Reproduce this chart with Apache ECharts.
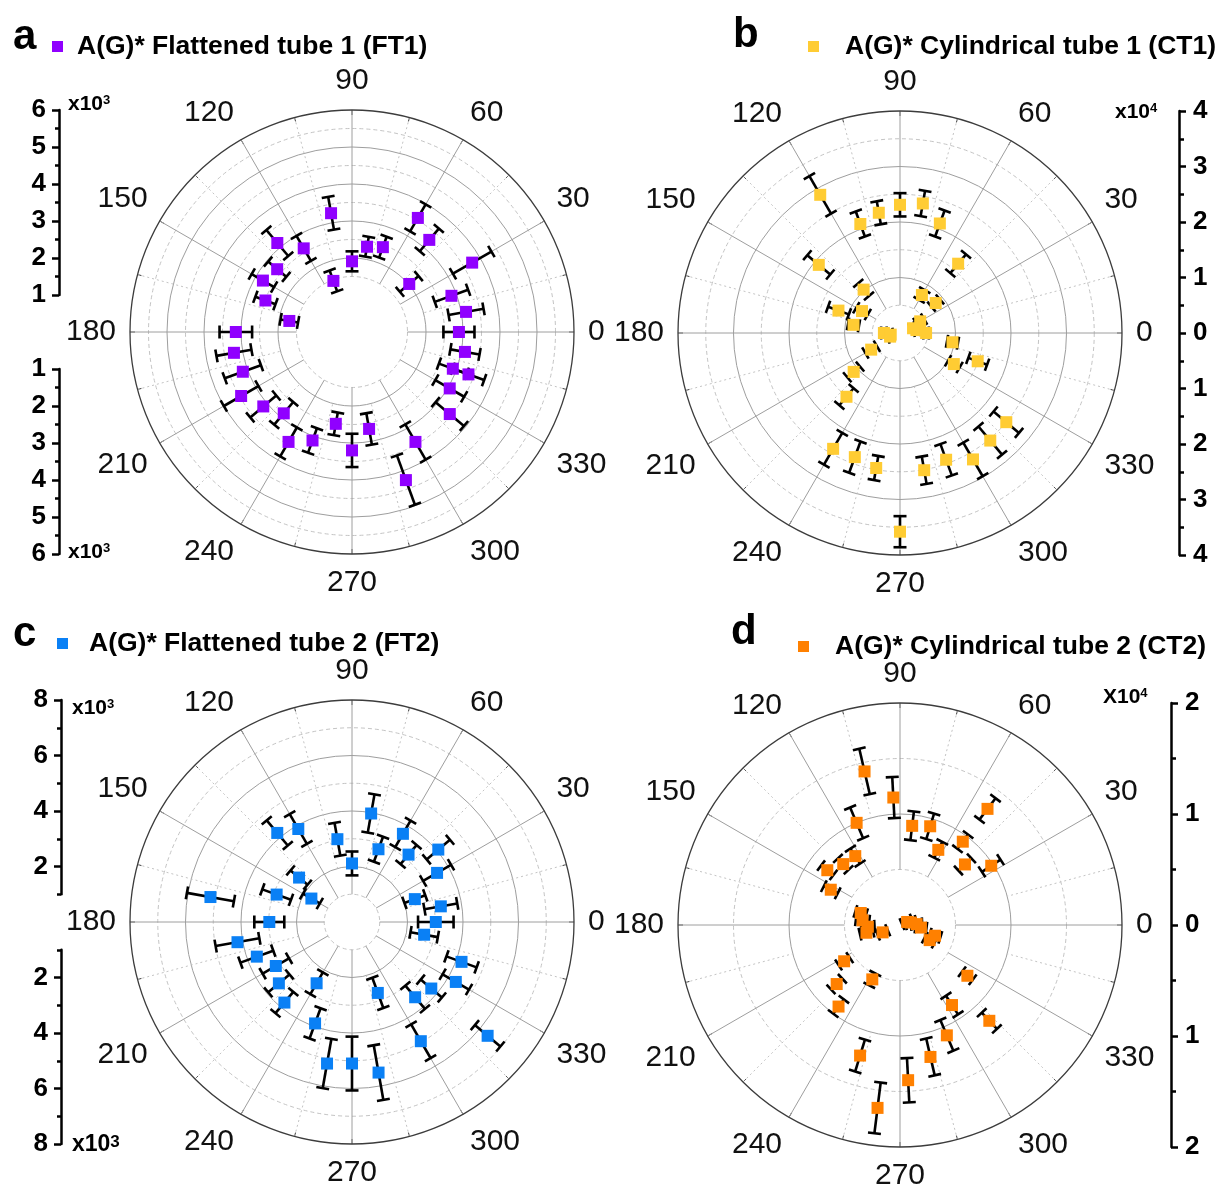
<!DOCTYPE html>
<html><head><meta charset="utf-8">
<script src="https://cdn.jsdelivr.net/npm/echarts@6/dist/echarts.min.js"></script>
<style>html,body{margin:0;padding:0;background:#fff}#c{width:1221px;height:1185px}</style>
</head><body><div id="c"></div>
<script>
// ---------------- DATA ----------------
// Panel a : A(G)* Flattened tube 1 (FT1)  (values in counts, radial unit 1e3)
const FT1_angle = [0,10,20,30,40,50,60,70,80,90,100,110,120,130,140,150,160,170,180,190,200,210,220,230,240,250,260,270,280,290,300,320,330,340,340,350];
const FT1_value = [2890,3130,2860,3750,2020,3250,3560,2440,2340,1910,3260,1470,2610,3140,2640,2780,2490,1720,3140,3240,3140,3460,3130,2870,3430,3120,2520,3200,2660,4260,3430,3450,3050,2900,3350,3100];
const FT1_err   = [420,480,480,600,330,400,420,300,270,270,450,300,390,460,320,350,290,240,440,480,520,540,460,400,450,350,310,450,430,710,550,500,450,400,450,400];
// Panel b : A(G)* Cylindrical tube 1 (CT1)  (radial unit 1e4)
const CT1_angle = [0,10,20,30,40,50,60,70,80,90,100,110,120,130,140,150,160,170,180,190,200,210,220,230,240,250,260,270,280,290,300,310,320,330,340,350];
const CT1_value = [4700,3000,2500,4200,8400,16300,7900,21000,23700,23100,22000,20900,28750,10200,19100,7900,11800,8500,2900,1700,1900,6000,10900,15000,24100,23800,24700,35800,25100,24300,26300,25300,25000,11200,14900,9600];
const CT1_err   = [500,500,500,800,1000,2200,1000,2500,2300,2100,2100,2400,3900,1500,2700,1200,2000,1000,500,500,500,1200,1500,2000,3300,3000,2200,2800,2500,3000,3500,3300,3000,1200,1800,1000];
// Panel c : A(G)* Flattened tube 2 (FT2)  (radial unit 1e3)
const FT2_angle = [0,10,20,30,40,50,60,70,80,90,100,120,130,140,150,160,170,180,190,200,210,220,230,240,250,260,270,280,290,300,310,320,320,330,340,350];
const FT2_value = [3020,3250,2410,3540,4060,3170,3670,2790,3970,2110,3030,3870,4190,2490,1690,2890,5180,2980,4190,3650,3170,3440,3790,2550,3890,5180,5100,5510,2720,4960,3540,3730,6380,4320,4200,2640];
const FT2_err   = [640,600,400,580,550,450,550,480,700,430,600,620,590,400,350,550,860,540,800,630,550,500,500,450,580,900,970,1000,580,700,550,500,600,550,580,500];
// Panel d : A(G)* Cylindrical tube 2 (CT2)  (radial unit 1e4)
const CT2_angle = [3,13,23,33,43,53,53,63,73,83,93,103,113,123,133,143,153,163,173,183,193,203,213,223,233,243,253,263,273,283,293,303,313,323,333,343,353];
const CT2_value = [1500,1000,700,9800,8000,9400,13100,7600,9300,9000,11500,14200,10000,7400,7500,8200,7000,3700,3400,2900,3100,1700,6000,7800,9200,5500,12300,16600,14000,12200,10800,8600,11800,7600,3000,3300,1900];
const CT2_err   = [500,500,500,1000,800,800,1200,800,1200,1300,1850,2100,1500,800,700,700,700,500,600,600,600,500,600,700,800,600,1500,2300,2000,1700,1500,1000,1000,600,500,500,500];

// Side-axis tick labels
const FT1_ticks = [1000,2000,3000,4000,5000,6000];
const FT1_minor = [1500,2500,3500,4500,5500];
const CT1_ticks = [-40000,-30000,-20000,-10000,0,10000,20000,30000,40000];
const CT1_minor = [-35000,-25000,-15000,-5000,5000,15000,25000,35000];
const FT2_ticks = [2000,4000,6000,8000];
const FT2_minor = [1000,3000,5000,7000];
const CT2_ticks = [-20000,-10000,0,10000,20000];
const CT2_minor = [-15000,-5000,5000,15000];

// ---------------- LAYOUT ----------------
const FONT = '"Liberation Sans", Arial, Helvetica, sans-serif';
const R = 222;
const TRANSP = 'rgba(0,0,0,0)';
const panels = [
  {name:'A(G)* Flattened tube 1 (FT1)', color:'#9000ff', cx:352, cy:332, M:6000, I:1000, hole:1500, first:2000,
   angle:FT1_angle, value:FT1_value, err:FT1_err},
  {name:'A(G)* Cylindrical tube 1 (CT1)', color:'#ffcc33', cx:900, cy:333, M:40000, I:10000, hole:5000, first:10000,
   angle:CT1_angle, value:CT1_value, err:CT1_err},
  {name:'A(G)* Flattened tube 2 (FT2)', color:'#0a80f5', cx:352, cy:922, M:8000, I:2000, hole:1000, first:2000,
   angle:FT2_angle, value:FT2_value, err:FT2_err},
  {name:'A(G)* Cylindrical tube 2 (CT2)', color:'#ff8000', cx:900, cy:925, M:20000, I:10000, hole:5000, first:10000,
   angle:CT2_angle, value:CT2_value, err:CT2_err}
];

const polar = [], angleAxis = [], radiusAxis = [], series = [];
const hiddenAngle = (pi) => ({polarIndex:pi, type:'value', min:0, max:360, startAngle:0, clockwise:false, show:false});

function errRender(params, api) {
  const r = api.value(0), a = api.value(1), e = api.value(2);
  const p0 = api.coord([0, a]);
  const p1 = api.coord([Math.max(0, r - e), a]);
  const p2 = api.coord([r + e, a]);
  let ux = p2[0] - p0[0], uy = p2[1] - p0[1];
  const L = Math.hypot(ux, uy) || 1; ux /= L; uy /= L;
  const px = -uy, py = ux, c = 6.5;
  const st = {stroke:'#000', lineWidth:2.6};
  return {type:'group', children:[
    {type:'line', shape:{x1:p1[0], y1:p1[1], x2:p2[0], y2:p2[1]}, style:st},
    {type:'line', shape:{x1:p1[0]-c*px, y1:p1[1]-c*py, x2:p1[0]+c*px, y2:p1[1]+c*py}, style:st},
    {type:'line', shape:{x1:p2[0]-c*px, y1:p2[1]-c*py, x2:p2[0]+c*px, y2:p2[1]+c*py}, style:st}
  ]};
}

panels.forEach((p) => {
  const base = polar.length;
  const center = [p.cx, p.cy];
  // 0: outer ring, labels, dashed minor circles
  polar.push({center, radius:[0, R]});
  angleAxis.push({polarIndex:base, type:'value', min:0, max:360, interval:30, startAngle:0, clockwise:false,
    axisLine:{show:true, lineStyle:{color:'#3c3c3c', width:1.3}},
    axisTick:{show:true, inside:true, length:5, lineStyle:{color:'#3c3c3c', width:1}},
    minorTick:{show:true, splitNumber:2, length:4, lineStyle:{color:'#3c3c3c', width:1}},
    axisLabel:{show:true, margin:14, fontSize:30, color:'#111', fontFamily:FONT},
    splitLine:{show:false}});
  const minorColors = [];
  for (let i = 0; i <= p.M / (p.I / 2); i++) {
    const v = i * p.I / 2;
    minorColors.push((i % 2 === 1 && v >= p.hole) ? '#c4c4c4' : TRANSP);
  }
  radiusAxis.push({polarIndex:base, type:'value', min:0, max:p.M, interval:p.I/2,
    axisLine:{show:false}, axisTick:{show:false}, axisLabel:{show:false},
    splitLine:{show:true, lineStyle:{type:[4,3], width:1, color:minorColors}}});
  // 1: solid major circles
  polar.push({center, radius:[0, R]});
  angleAxis.push(hiddenAngle(base+1));
  const majorColors = [];
  for (let i = 0; i <= p.M / p.I; i++) {
    const v = i * p.I;
    majorColors.push((v >= p.first && v < p.M) ? '#9e9e9e' : TRANSP);
  }
  radiusAxis.push({polarIndex:base+1, type:'value', min:0, max:p.M, interval:p.I,
    axisLine:{show:false}, axisTick:{show:false}, axisLabel:{show:false},
    splitLine:{show:true, lineStyle:{type:'solid', width:1, color:majorColors}}});
  // 2: major spokes from the hole outward
  polar.push({center, radius:[R * p.hole / p.M, R]});
  angleAxis.push({polarIndex:base+2, type:'value', min:0, max:360, interval:30, startAngle:0, clockwise:false,
    axisLine:{show:false}, axisTick:{show:false}, axisLabel:{show:false},
    splitLine:{show:true, lineStyle:{color:'#9e9e9e', width:1}}});
  radiusAxis.push({polarIndex:base+2, type:'value', min:0, max:1, show:false});
  // 3: dotted minor spokes from first major circle
  polar.push({center, radius:[R * p.first / p.M, R]});
  angleAxis.push({polarIndex:base+3, type:'value', min:0, max:360, interval:30, startAngle:15, clockwise:false,
    axisLine:{show:false}, axisTick:{show:false}, axisLabel:{show:false},
    splitLine:{show:true, lineStyle:{color:'#c4c4c4', width:1, type:[2,3]}}});
  radiusAxis.push({polarIndex:base+3, type:'value', min:0, max:1, show:false});
  // 4: data
  polar.push({center, radius:[0, R]});
  angleAxis.push(hiddenAngle(base+4));
  radiusAxis.push({polarIndex:base+4, type:'value', min:0, max:p.M, show:false});

  const pts = p.angle.map((a, i) => [p.value[i], a, p.err[i]]);
  series.push({type:'custom', name:p.name + ' err', coordinateSystem:'polar', polarIndex:base+4,
    data:pts, encode:{radius:0, angle:1}, renderItem:errRender, z:3, silent:true});
  series.push({type:'scatter', name:p.name, coordinateSystem:'polar', polarIndex:base+4,
    data:pts.map(d => [d[0], d[1]]), symbol:'rect', symbolSize:12, itemStyle:{color:p.color, opacity:1}, z:5});
});

// ---------------- SIDE AXES ----------------
const grid = [], xAxis = [], yAxis = [];
function sideAxis(rect, min, max, inverse, position, major, minor, fmt) {
  const gi = grid.length;
  grid.push(Object.assign({containLabel:false}, rect));
  xAxis.push({gridIndex:gi, type:'value', show:false, min:0, max:1});
  yAxis.push({gridIndex:gi, type:'value', min, max, inverse, position,
    axisLine:{show:true, lineStyle:{color:'#000', width:2.5}},
    axisTick:{show:true, customValues:major, length:7, lineStyle:{color:'#000', width:2.5}},
    axisLabel:{show:true, customValues:major, formatter:fmt, margin:13, fontSize:26, fontWeight:'bold', color:'#000', fontFamily:FONT},
    splitLine:{show:false}});
  yAxis.push({gridIndex:gi, type:'value', min, max, inverse, position,
    axisLine:{show:false},
    axisTick:{show:true, customValues:minor, length:4, lineStyle:{color:'#000', width:2.5}},
    axisLabel:{show:false}, splitLine:{show:false}});
}
const k3 = v => String(Math.round(Math.abs(v) / 1000));
const k4 = v => String(Math.round(Math.abs(v) / 10000));
sideAxis({left:59, top:110, width:1, height:185}, 1000, 6000, false, 'left', FT1_ticks, FT1_minor, k3);
sideAxis({left:59, top:369, width:1, height:185}, 1000, 6000, true, 'left', FT1_ticks, FT1_minor, k3);
sideAxis({left:1179, top:111, width:1, height:444}, -40000, 40000, false, 'right', CT1_ticks, CT1_minor, k4);
sideAxis({left:61, top:700, width:1, height:194.25}, 1000, 8000, false, 'left', FT2_ticks, FT2_minor, k3);
sideAxis({left:61, top:949.75, width:1, height:194.25}, 1000, 8000, true, 'left', FT2_ticks, FT2_minor, k3);
sideAxis({left:1171, top:703, width:1, height:444}, -20000, 20000, false, 'right', CT2_ticks, CT2_minor, k4);

// ---------------- LEGENDS / LABELS ----------------
const legPos = [
  {left:52, top:33, pad:9},
  {left:808, top:33, pad:21},
  {left:57, top:630, pad:16},
  {left:798, top:633, pad:21}
];
const legend = panels.map((p, i) => ({
  data:[p.name], left:legPos[i].left, top:legPos[i].top, icon:'rect', itemWidth:11, itemHeight:11,
  selectedMode:false, itemGap:0, padding:0,
  textStyle:{fontSize:26.5, fontWeight:'bold', color:'#000', fontFamily:FONT, padding:[0,0,0,legPos[i].pad]}
}));

const rich3 = {a:{fontSize:21, fontWeight:'bold', fontFamily:FONT, fill:'#000'}, b:{fontSize:13, fontWeight:'bold', fontFamily:FONT, verticalAlign:'top', fill:'#000'}};
const rich3big = {a:{fontSize:23, fontWeight:'bold', fontFamily:FONT, fill:'#000'}, b:{fontSize:17, fontWeight:'bold', fontFamily:FONT, verticalAlign:'top', fill:'#000'}};
function t(x, y, text, style) { return {type:'text', x, y, style:Object.assign({text}, style)}; }
const letter = {font:'bold 42px ' + FONT, fill:'#000', verticalAlign:'middle'};
const graphic = [
  t(13, 37, 'a', letter),
  t(733, 35, 'b', letter),
  t(13, 634, 'c', letter),
  t(731, 632, 'd', letter),
  t(68, 104, '{a|x10}{b|3}', {rich:rich3, verticalAlign:'middle'}),
  t(68, 552, '{a|x10}{b|3}', {rich:rich3, verticalAlign:'middle'}),
  t(1115, 112, '{a|x10}{b|4}', {rich:rich3, verticalAlign:'middle'}),
  t(72, 708, '{a|x10}{b|3}', {rich:rich3, verticalAlign:'middle'}),
  t(72, 1145, '{a|x10}{b|3}', {rich:rich3big, verticalAlign:'middle'}),
  t(1103, 697, '{a|X10}{b|4}', {rich:rich3, verticalAlign:'middle'})
];

const chart = echarts.init(document.getElementById('c'), null, {renderer:'canvas'});
chart.setOption({
  animation:false, backgroundColor:'#fff',
  polar, angleAxis, radiusAxis, grid, xAxis, yAxis, legend, graphic, series
});
</script></body></html>
